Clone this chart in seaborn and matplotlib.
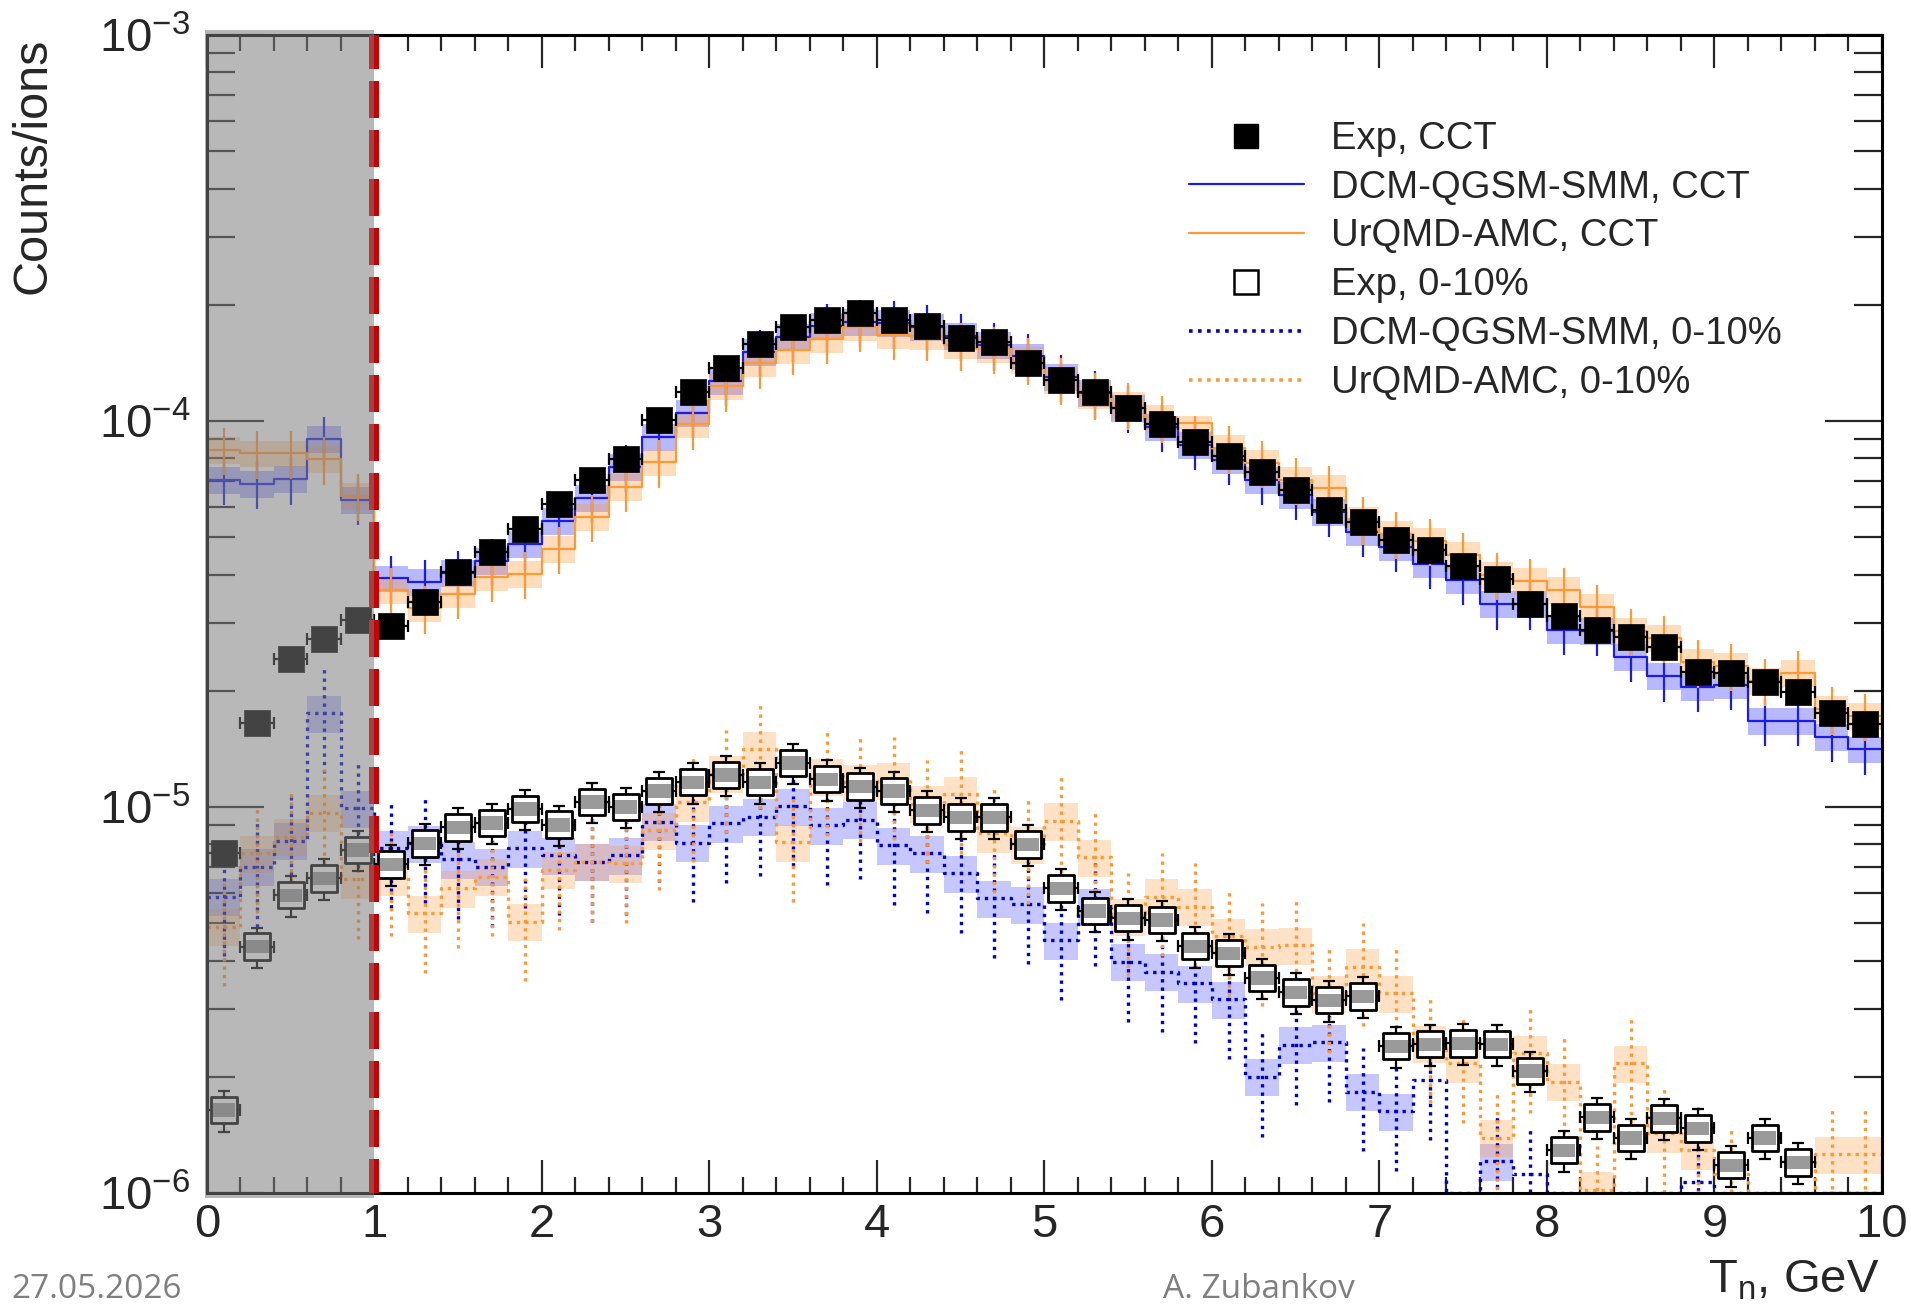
import numpy as np
import pandas as pd
import matplotlib
matplotlib.use("Agg")
import matplotlib.pyplot as plt
import matplotlib.ticker as mticker
import matplotlib.transforms as mtrans
from matplotlib.lines import Line2D
from matplotlib.patches import Rectangle
import seaborn as sns

# ---------------- data ----------------
bin_centers = [0.1, 0.3, 0.5, 0.7, 0.9, 1.1, 1.3, 1.5, 1.7, 1.9,
               2.1, 2.3, 2.5, 2.7, 2.9, 3.1, 3.3, 3.5, 3.7, 3.9,
               4.1, 4.3, 4.5, 4.7, 4.9, 5.1, 5.3, 5.5, 5.7, 5.9,
               6.1, 6.3, 6.5, 6.7, 6.9, 7.1, 7.3, 7.5, 7.7, 7.9,
               8.1, 8.3, 8.5, 8.7, 8.9, 9.1, 9.3, 9.5, 9.7, 9.9]
bin_half_width = 0.1

exp_cct = [7.6e-6, 1.65e-5, 2.42e-5, 2.72e-5, 3.06e-5,
           2.94e-5, 3.40e-5, 4.07e-5, 4.58e-5, 5.24e-5,
           6.09e-5, 7.03e-5, 7.96e-5, 1.007e-4, 1.19e-4,
           1.37e-4, 1.58e-4, 1.75e-4, 1.83e-4, 1.90e-4,
           1.83e-4, 1.76e-4, 1.64e-4, 1.60e-4, 1.41e-4,
           1.28e-4, 1.19e-4, 1.08e-4, 9.8e-5, 8.83e-5,
           8.11e-5, 7.37e-5, 6.63e-5, 5.88e-5, 5.48e-5,
           4.92e-5, 4.63e-5, 4.22e-5, 3.89e-5, 3.36e-5,
           3.13e-5, 2.88e-5, 2.75e-5, 2.59e-5, 2.24e-5,
           2.22e-5, 2.11e-5, 1.99e-5, 1.75e-5, 1.64e-5]

dcm_cct = [7.03e-5, 6.87e-5, 7.06e-5, 8.97e-5, 6.24e-5,
           3.91e-5, 3.82e-5, 4.03e-5, 4.35e-5, 4.79e-5,
           5.51e-5, 6.31e-5, 7.62e-5, 9.08e-5, 1.05e-4,
           1.27e-4, 1.51e-4, 1.65e-4, 1.76e-4, 1.81e-4,
           1.79e-4, 1.75e-4, 1.66e-4, 1.57e-4, 1.47e-4,
           1.30e-4, 1.18e-4, 1.08e-4, 9.66e-5, 8.67e-5,
           7.93e-5, 7.03e-5, 6.43e-5, 5.82e-5, 5.17e-5,
           4.72e-5, 4.27e-5, 3.87e-5, 3.35e-5, 3.35e-5,
           2.88e-5, 2.86e-5, 2.45e-5, 2.18e-5, 2.05e-5,
           2.07e-5, 1.67e-5, 1.67e-5, 1.52e-5, 1.41e-5]

urqmd_cct = [8.41e-5, 8.24e-5, 8.24e-5, 7.96e-5, 6.4e-5,
             3.65e-5, 3.27e-5, 3.56e-5, 3.95e-5, 4.02e-5,
             4.66e-5, 5.65e-5, 6.76e-5, 7.81e-5, 9.80e-5,
             1.23e-4, 1.41e-4, 1.53e-4, 1.63e-4, 1.75e-4,
             1.67e-4, 1.66e-4, 1.57e-4, 1.54e-4, 1.44e-4,
             1.28e-4, 1.17e-4, 1.10e-4, 1.02e-4, 9.9e-5,
             8.50e-5, 7.78e-5, 7.03e-5, 6.7e-5, 5.56e-5,
             5.1e-5, 4.9e-5, 4.5e-5, 4.0e-5, 3.85e-5,
             3.65e-5, 3.3e-5, 2.86e-5, 2.74e-5, 2.37e-5,
             2.32e-5, 2.12e-5, 2.22e-5, 1.79e-5, 1.72e-5]

exp_010 = [1.64e-6, 4.35e-6, 5.91e-6, 6.53e-6, 7.74e-6,
           7.1e-6, 8.05e-6, 8.85e-6, 9.1e-6, 9.9e-6,
           9.0e-6, 1.03e-5, 1.0e-5, 1.1e-5, 1.16e-5,
           1.21e-5, 1.16e-5, 1.30e-5, 1.18e-5, 1.13e-5,
           1.10e-5, 9.8e-6, 9.4e-6, 9.4e-6, 8.0e-6,
           6.15e-6, 5.38e-6, 5.15e-6, 5.10e-6, 4.36e-6,
           4.18e-6, 3.61e-6, 3.31e-6, 3.16e-6, 3.23e-6,
           2.40e-6, 2.43e-6, 2.44e-6, 2.43e-6, 2.07e-6,
           1.29e-6, 1.57e-6, 1.39e-6, 1.56e-6, 1.47e-6,
           1.18e-6, 1.39e-6, 1.20e-6, np.nan, np.nan]

dcm_010 = [5.86e-6, 7.0e-6, 8.18e-6, 1.75e-5, 9.94e-6,
           7.82e-6, 8.05e-6, 7.32e-6, 7.0e-6, 7.82e-6,
           7.5e-6, 7.21e-6, 7.5e-6, 9.16e-6, 8.09e-6,
           9.07e-6, 9.44e-6, 1.006e-5, 8.98e-6, 9.28e-6,
           7.97e-6, 7.59e-6, 6.73e-6, 5.80e-6, 5.6e-6,
           4.52e-6, 5.52e-6, 3.97e-6, 3.74e-6, 3.49e-6,
           3.18e-6, 2.0e-6, 2.42e-6, 2.46e-6, 1.83e-6,
           1.63e-6, 1.96e-6, 0.0, 1.21e-6, 1.12e-6,
           0.0, 0.0, 0.0, 0.0, 1.07e-6,
           0.0, 0.0, 0.0, 0.0, 0.0]

urqmd_010 = [4.9e-6, 7.6e-6, 8.37e-6, 9.67e-6, 6.5e-6,
             6.6e-6, 5.31e-6, 6.15e-6, 6.6e-6, 5.05e-6,
             6.87e-6, 7.21e-6, 7.14e-6, 8.7e-6, 1.03e-5,
             1.22e-5, 1.41e-5, 8.1e-6, 1.2e-5, 1.16e-5,
             1.17e-5, 1.02e-5, 1.08e-5, 8.55e-6, 8.0e-6,
             9.2e-6, 7.41e-6, 5.2e-6, 5.86e-6, 5.52e-6,
             4.62e-6, 4.35e-6, 4.39e-6, 3.29e-6, 3.86e-6,
             3.29e-6, 2.44e-6, 2.17e-6, 1.39e-6, 2.30e-6,
             1.94e-6, 1.02e-6, 2.17e-6, 1.43e-6, 1.29e-6,
             1.12e-6, 0.0, 0.0, 1.26e-6, 1.26e-6]

# relative uncertainties (approximate)
rel_err_exp_cct = 0.03
rel_err_exp_010 = 0.12
rel_sys_exp_010 = 0.04
rel_err_model_cct = 0.14
rel_band_model_cct = 0.08
rel_err_model_010 = 0.30
rel_band_model_010 = 0.11

legend_labels = ["Exp, CCT", "DCM-QGSM-SMM, CCT", "UrQMD-AMC, CCT",
                 "Exp, 0-10%", "DCM-QGSM-SMM, 0-10%", "UrQMD-AMC, 0-10%"]
x_title = "T$_{\\mathregular{n}}$, GeV"
y_title = "Counts/ions"
footer_left = "27.05.2026"
footer_mid = "A. Zubankov"

# ---------------- style ----------------
sns.set_style("white")
plt.rcParams['font.family'] = ['Liberation Sans', 'DejaVu Sans']
plt.rcParams['mathtext.fontset'] = 'custom'
plt.rcParams['mathtext.rm'] = 'Liberation Sans'
plt.rcParams['mathtext.it'] = 'Liberation Sans:italic'
plt.rcParams['mathtext.bf'] = 'Liberation Sans:bold'
plt.rcParams['mathtext.default'] = 'regular'

BLUE = '#1c1ce6'
BLUE_DOT = '#0000cc'
ORANGE = '#ff9933'
BLUE_BAND = '#0000ff'
ORANGE_BAND = '#ff9933'
DOT = (0, (1.0, 1.5))

fig = plt.figure(figsize=(19.11, 13.04), dpi=100)
ax = fig.add_axes([0.10832, 0.08512, 0.87650, 0.88804])
ax.set_yscale('log')
ax.set_xlim(0, 10)
ax.set_ylim(1e-6, 1e-3)

x = np.array(bin_centers)
floor = 1e-6
edges = np.append(x - bin_half_width, x[-1] + bin_half_width)


def model(vals, color, band_color, ls, lw, band_rel, err_rel, band_alpha):
    v = np.array(vals, dtype=float)
    pos = v > 0
    band_lo = np.where(pos, v * (1 - band_rel), np.nan)
    band_hi = np.where(pos, v * (1 + band_rel), np.nan)
    ax.fill_between(edges, np.append(band_lo, band_lo[-1]), np.append(band_hi, band_hi[-1]),
                    step='post', color=band_color, alpha=band_alpha, lw=0, zorder=1)
    vplot = np.clip(v, floor, None)
    df = pd.DataFrame({'x': edges, 'y': np.append(vplot, vplot[-1])})
    sns.lineplot(data=df, x='x', y='y', drawstyle='steps-post', color=color,
                 linestyle=ls, linewidth=lw, estimator=None, sort=False,
                 ax=ax, legend=False, zorder=3)
    eb = ax.errorbar(x[pos], v[pos], yerr=[v[pos] * err_rel, v[pos] * err_rel],
                     fmt='none', ecolor=color, elinewidth=lw, capsize=0, zorder=3)
    for lc in eb[2]:
        lc.set_linestyle(ls)


model(dcm_cct, BLUE, BLUE_BAND, '-', 1.6, rel_band_model_cct, rel_err_model_cct, 0.28)
model(urqmd_cct, ORANGE, ORANGE_BAND, '-', 1.6, rel_band_model_cct, rel_err_model_cct, 0.33)
model(dcm_010, BLUE_DOT, BLUE_BAND, DOT, 2.4, rel_band_model_010, rel_err_model_010, 0.22)
model(urqmd_010, ORANGE, ORANGE_BAND, DOT, 2.4, rel_band_model_010, rel_err_model_010, 0.28)

# experimental 0-10 %
e010 = np.array(exp_010, dtype=float)
ax.errorbar(x, e010, xerr=bin_half_width, yerr=e010 * rel_err_exp_010, fmt='none',
            ecolor='black', elinewidth=1.6, capsize=4, capthick=1.6, zorder=5)
df010 = pd.DataFrame({'x': x, 'y': e010}).dropna()
sns.scatterplot(data=df010, x='x', y='y', marker='s', s=360, facecolor='white',
                edgecolor='none', linewidth=0, ax=ax, legend=False, zorder=5.5)
ax.bar(x, e010 * 2 * rel_sys_exp_010, bottom=e010 * (1 - rel_sys_exp_010), width=0.135,
       color='#9a9a9a', lw=0, zorder=5.8)
sns.scatterplot(data=df010, x='x', y='y', marker='s', s=360, facecolor='none',
                edgecolor='black', linewidth=2.0, ax=ax, legend=False, zorder=6)

# experimental CCT
ecct = np.array(exp_cct)
ax.errorbar(x, ecct, xerr=bin_half_width, yerr=ecct * rel_err_exp_cct, fmt='none',
            ecolor='black', elinewidth=1.6, capsize=4, capthick=1.6, zorder=5)
dfc = pd.DataFrame({'x': x, 'y': ecct})
sns.scatterplot(data=dfc, x='x', y='y', marker='s', s=370, color='black',
                edgecolor='black', linewidth=0.5, ax=ax, legend=False, zorder=6)

# threshold line and shaded region
ax.axvline(1.0, color='#cc0000', lw=7.2, linestyle=(0.3, (3.7, 1.2)), zorder=9)
blend = mtrans.blended_transform_factory(ax.transData, ax.transAxes)
ax.add_patch(Rectangle((-0.012, -0.004), 1.012, 1.008, transform=blend,
                       facecolor=(125 / 255, 125 / 255, 125 / 255), alpha=0.545,
                       lw=0, zorder=10, clip_on=False))

# axes styling (ROOT-like)
for sp in ax.spines.values():
    sp.set_linewidth(2.2)
    sp.set_color('black')
    sp.set_zorder(8)
ax.xaxis.set_major_locator(mticker.MultipleLocator(1))
ax.xaxis.set_minor_locator(mticker.MultipleLocator(0.2))
ax.yaxis.set_major_locator(mticker.LogLocator(base=10))
ax.yaxis.set_minor_locator(mticker.LogLocator(base=10, subs=np.arange(2, 10)))
ax.yaxis.set_minor_formatter(mticker.NullFormatter())
ax.yaxis.set_major_formatter(mticker.LogFormatterMathtext())
ax.tick_params(axis='y', which='major', direction='in', length=41, width=1.6,
               left=True, right=True, labelsize=34, pad=12)
ax.tick_params(axis='y', which='minor', direction='in', length=20, width=1.6,
               left=True, right=True)
ax.tick_params(axis='x', which='major', direction='in', length=24, width=1.6,
               bottom=True, top=True, labelsize=34, pad=7)
ax.tick_params(axis='x', which='minor', direction='in', length=11.5, width=1.6,
               bottom=True, top=True)
ax.set_xlabel("")
ax.set_ylabel("")
ax.grid(False)

fig.text(0.0175, 0.9712, y_title, rotation=90, ha='center', va='top', fontsize=35)
fig.text(0.9838, 0.0092, x_title, ha='right', va='baseline', fontsize=34)
fig.text(0.006, 0.0046, footer_left, ha='left', va='baseline', fontsize=24,
         color='#7f7f7f', family=['Open Sans', 'DejaVu Sans'])
fig.text(0.659, 0.0046, footer_mid, ha='center', va='baseline', fontsize=24,
         color='#7f7f7f', family=['Open Sans', 'DejaVu Sans'])

handles = [
    Line2D([], [], marker='s', color='black', ls='none', markersize=17),
    Line2D([], [], color=BLUE, lw=1.6),
    Line2D([], [], color=ORANGE, lw=1.6),
    Line2D([], [], marker='s', markerfacecolor='white', markeredgecolor='black',
           markeredgewidth=1.8, ls='none', markersize=17),
    Line2D([], [], color=BLUE_DOT, lw=2.6, linestyle=DOT),
    Line2D([], [], color=ORANGE, lw=2.6, linestyle=DOT),
]
leg = ax.legend(handles, legend_labels, loc='upper left',
                bbox_to_anchor=(0.6143, 0.9190), bbox_transform=fig.transFigure,
                fontsize=27.5, frameon=True, facecolor='white', edgecolor='none',
                framealpha=1.0, fancybox=False, handlelength=3.0, handletextpad=0.7,
                labelspacing=0.335, borderpad=0.4, borderaxespad=0)
leg.set_zorder(20)

fig.savefig('out.png', dpi=100)
